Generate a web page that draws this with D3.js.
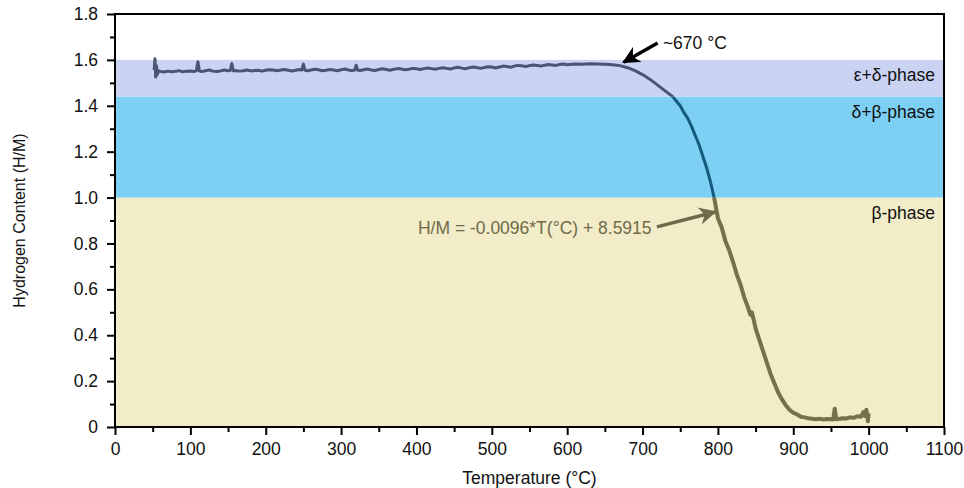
<!DOCTYPE html>
<html>
<head>
<meta charset="utf-8">
<script src="https://cdn.jsdelivr.net/npm/d3@7"></script>
<style>
  body { margin: 0; background: #fff; }
  text { font-family: "Liberation Sans", Arial, Helvetica, sans-serif; }
</style>
</head>
<body>
<div id="chart"></div>
<script>
// phase bands (H/M ranges)
var bands = [
    {name: "β-phase", lo: 0, hi: 1.0, fill: "#f2ecc8", line: "#76704c", labelY: 1.0},
    {name: "δ+β-phase", lo: 1.0, hi: 1.44, fill: "#7ecff4", line: "#145a7c", labelY: 1.44},
    {name: "ε+δ-phase", lo: 1.44, hi: 1.6, fill: "#cbd3f3", line: "#4c5373", labelY: 1.6}
];

var xTicks = [0, 100, 200, 300, 400, 500, 600, 700, 800, 900, 1000, 1100];
var yTicks = [0, 0.2, 0.4, 0.6, 0.8, 1.0, 1.2, 1.4, 1.6, 1.8];

// temperature (°C) and hydrogen content (H/M)
var temp = [52, 53, 54, 55, 56, 58, 60, 65, 70, 75, 80, 85, 90, 95, 100, 105, 108, 110, 112, 115, 120, 125, 130, 135, 140, 145, 150, 153, 155, 157,
    160, 165, 170, 175, 180, 185, 190, 195, 200, 205, 210, 215, 220, 225, 230, 235, 240, 245, 248, 250, 252, 255, 260, 265, 270, 275, 280, 285, 290, 295, 300, 305, 310, 315, 318, 320, 322,
    325, 330, 335, 340, 345, 350, 355, 360, 365, 370, 375, 380, 385, 390, 395, 400, 405, 410, 415, 420, 425, 430, 435, 440, 445, 450, 455, 460, 465, 470, 475, 480, 485, 490, 495, 500, 505, 510, 515, 520,
    525, 530, 535, 540, 545, 550, 555, 560, 565, 570, 575, 580, 585, 590, 595, 600, 610, 620, 630, 640, 650, 660, 670, 680, 690, 700, 710, 720,
    730, 740, 745, 750, 755, 760, 765, 770, 775, 780, 785, 790, 795, 800, 805, 810, 815, 820, 825, 830, 835, 840, 843, 845, 848, 850, 855, 860, 865, 870, 875, 880, 885, 890,
    895, 900, 905, 910, 915, 920, 925, 930, 935, 940, 945, 950, 953, 955, 957, 960, 965, 970, 975, 980, 985, 990, 993, 995, 997, 999, 1000];
var hm = [1.555, 1.605, 1.525, 1.575, 1.535, 1.552, 1.55, 1.547, 1.551, 1.548, 1.55, 1.553, 1.548, 1.551, 1.552, 1.549, 1.553, 1.592, 1.552, 1.549, 1.553, 1.556, 1.551, 1.549, 1.552, 1.556, 1.553, 1.554, 1.584, 1.553,
    1.554, 1.551, 1.553, 1.556, 1.552, 1.554, 1.555, 1.551, 1.555, 1.557, 1.556, 1.553, 1.556, 1.558, 1.555, 1.552, 1.555, 1.558, 1.556, 1.582, 1.555, 1.553, 1.556, 1.559, 1.557, 1.553, 1.555, 1.558, 1.556, 1.553, 1.557, 1.56, 1.556, 1.553, 1.556, 1.577, 1.556,
    1.554, 1.557, 1.56, 1.556, 1.554, 1.558, 1.561, 1.558, 1.555, 1.559, 1.562, 1.56, 1.557, 1.559, 1.563, 1.561, 1.558, 1.562, 1.565, 1.562, 1.559, 1.563, 1.566, 1.563, 1.56, 1.565, 1.568, 1.564, 1.561, 1.566, 1.569, 1.567, 1.563, 1.567, 1.57, 1.569, 1.565, 1.569, 1.573, 1.571,
    1.568, 1.573, 1.576, 1.574, 1.571, 1.575, 1.578, 1.576, 1.573, 1.577, 1.58, 1.578, 1.576, 1.58, 1.582, 1.579, 1.582, 1.581, 1.583, 1.582, 1.581, 1.579, 1.575, 1.566, 1.553, 1.536, 1.515, 1.49,
    1.465, 1.44, 1.42, 1.4, 1.37, 1.345, 1.31, 1.27, 1.23, 1.18, 1.13, 1.07, 1.0, 0.91, 0.87, 0.81, 0.77, 0.72, 0.665, 0.62, 0.565, 0.52, 0.49, 0.5, 0.46, 0.43, 0.38, 0.33, 0.28, 0.23, 0.19, 0.15, 0.12, 0.095,
    0.075, 0.062, 0.055, 0.045, 0.042, 0.038, 0.036, 0.034, 0.036, 0.033, 0.035, 0.034, 0.033, 0.08, 0.034, 0.035, 0.038, 0.037, 0.042, 0.04, 0.047, 0.045, 0.065, 0.048, 0.075, 0.025, 0.06];

var width = 964, height = 488;
var margin = {top: 14, right: 20, bottom: 61, left: 115};
var fontSize = "17.5px";

var svg = d3.select("#chart").append("svg")
    .attr("width", width)
    .attr("height", height);

var x = d3.scaleLinear().domain([0, 1100]).range([margin.left, width - margin.right]);
var y = d3.scaleLinear().domain([0, 1.8]).range([height - margin.bottom, margin.top]);

var points = temp.map(function (t, i) { return [t, hm[i]]; });

/* background bands */
svg.selectAll("rect.band")
    .data(bands)
    .enter().append("rect")
    .attr("class", "band")
    .attr("x", x(0))
    .attr("width", x(1100) - x(0))
    .attr("y", function (d) { return y(d.hi); })
    .attr("height", function (d) { return y(d.lo) - y(d.hi); })
    .attr("fill", function (d) { return d.fill; });

/* clip paths so the curve changes colour in each band */
var defs = svg.append("defs");
bands.forEach(function (b, i) {
    var lo = i === 0 ? -1 : b.lo;
    var hi = i === bands.length - 1 ? 3 : b.hi;
    defs.append("clipPath").attr("id", "clip" + i)
        .append("rect")
        .attr("x", 0).attr("width", width)
        .attr("y", y(hi)).attr("height", y(lo) - y(hi));
});

var line = d3.line()
    .x(function (d) { return x(d[0]); })
    .y(function (d) { return y(d[1]); });

bands.forEach(function (b, i) {
    svg.append("path")
        .datum(points)
        .attr("d", line)
        .attr("fill", "none")
        .attr("stroke", b.line)
        .attr("stroke-width", i === 0 ? 4 : 3)
        .attr("stroke-linejoin", "round")
        .attr("clip-path", "url(#clip" + i + ")");
});

/* phase labels */
svg.selectAll("text.phase")
    .data(bands)
    .enter().append("text")
    .attr("class", "phase")
    .attr("x", x(1100) - 9)
    .attr("y", function (d) { return y(d.labelY) + 21; })
    .attr("text-anchor", "end")
    .attr("font-size", fontSize)
    .attr("fill", "#111")
    .text(function (d) { return d.name; });

/* arrows */
defs.append("marker").attr("id", "headBlack")
    .attr("viewBox", "0 0 10 10").attr("refX", 9).attr("refY", 5)
    .attr("markerWidth", 5).attr("markerHeight", 5).attr("orient", "auto")
    .append("path").attr("d", "M0,0 L10,5 L0,10 L3,5 Z").attr("fill", "#000");
defs.append("marker").attr("id", "headOlive")
    .attr("viewBox", "0 0 10 10").attr("refX", 9).attr("refY", 5)
    .attr("markerWidth", 5).attr("markerHeight", 5).attr("orient", "auto")
    .append("path").attr("d", "M0,0 L10,5 L0,10 L3,5 Z").attr("fill", "#6f6a48");

svg.append("line")
    .attr("x1", x(720)).attr("y1", y(1.674))
    .attr("x2", x(675)).attr("y2", y(1.59))
    .attr("stroke", "#000").attr("stroke-width", 3.5)
    .attr("marker-end", "url(#headBlack)");
svg.append("text")
    .attr("x", x(727)).attr("y", y(1.646))
    .attr("font-size", fontSize).attr("fill", "#111")
    .text("~670 °C");

svg.append("line")
    .attr("x1", x(719)).attr("y1", y(0.872))
    .attr("x2", x(796)).attr("y2", y(0.937))
    .attr("stroke", "#6f6a48").attr("stroke-width", 3.5)
    .attr("marker-end", "url(#headOlive)");
svg.append("text")
    .attr("x", x(712)).attr("y", y(0.843))
    .attr("text-anchor", "end")
    .attr("font-size", fontSize).attr("fill", "#6f6a48")
    .text("H/M = -0.0096*T(°C) + 8.5915");

/* frame */
svg.append("rect")
    .attr("x", x(0)).attr("y", y(1.8))
    .attr("width", x(1100) - x(0)).attr("height", y(0) - y(1.8))
    .attr("fill", "none").attr("stroke", "#000").attr("stroke-width", 2);

/* axes */
var xAxis = svg.append("g")
    .attr("transform", "translate(0," + y(0) + ")")
    .call(d3.axisBottom(x).tickValues(xTicks).tickSize(8).tickPadding(8).tickFormat(d3.format("d")));
var xMinor = svg.append("g")
    .attr("transform", "translate(0," + y(0) + ")")
    .call(d3.axisBottom(x).tickValues(d3.range(50, 1100, 100)).tickSize(5).tickFormat(""));

var yAxis = svg.append("g")
    .attr("transform", "translate(" + x(0) + ",0)")
    .call(d3.axisLeft(y).tickValues(yTicks).tickSize(8).tickPadding(9)
        .tickFormat(function (d) { return d === 0 ? "0" : d3.format(".1f")(d); }));
var yMinor = svg.append("g")
    .attr("transform", "translate(" + x(0) + ",0)")
    .call(d3.axisLeft(y).tickValues(d3.range(0.1, 1.8, 0.2)).tickSize(5).tickFormat(""));

[xAxis, xMinor, yAxis, yMinor].forEach(function (g) {
    g.select(".domain").remove();
    g.selectAll("line").attr("stroke", "#000").attr("stroke-width", 2);
    g.selectAll("text").attr("font-size", fontSize).attr("fill", "#111")
        .attr("font-family", "'Liberation Sans', Arial, sans-serif");
});

/* axis titles */
svg.append("text")
    .attr("x", (x(0) + x(1100)) / 2).attr("y", height - 4)
    .attr("text-anchor", "middle").attr("font-size", fontSize).attr("fill", "#111")
    .text("Temperature (°C)");
svg.append("text")
    .attr("transform", "translate(25," + (y(0.9)) + ") rotate(-90)")
    .attr("text-anchor", "middle").attr("font-size", "16px").attr("fill", "#111")
    .text("Hydrogen Content (H/M)");
</script>
</body>
</html>
